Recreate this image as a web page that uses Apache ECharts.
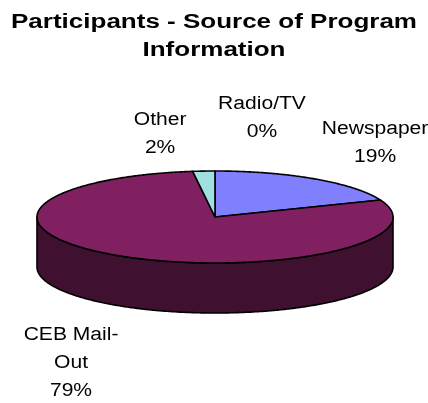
<!DOCTYPE html>
<html>
<head>
<meta charset="utf-8">
<script src="https://cdn.jsdelivr.net/npm/echarts@6/dist/echarts.min.js"></script>
<style>
html,body{margin:0;padding:0;background:#fff;}
#chart{width:428px;height:403px;}
</style>
</head>
<body>
<div id="chart"></div>
<script>
// ---- data ----
const titleLines = ['Participants - Source of Program', 'Information'];
const categories = ['Newspaper', 'CEB Mail-Out', 'Other', 'Radio/TV'];
const values = [19, 79, 2, 0];

// ---- style / layout ----
const topColors = ['#8080FF', '#802060', '#A0E0E0', '#FFFFC0'];
const sideColors = ['#404080', '#401030', '#507070', '#808060'];
const FONT = '"Liberation Sans", Arial, Helvetica, sans-serif';
const PIE = { cx: 215, cy: 217, rx: 178, ry: 46, depth: 50 };
const LABEL_K = { kx: 1.6, ky: 2.0 };
const labelNudge = [[0, 2], [1, 17], [-37, 9], [47, -7]];

const total = values.reduce((a, b) => a + b, 0);
const starts = [];
(function () { let acc = 0; values.forEach(v => { starts.push(acc); acc += v; }); })();

function ang(frac) { return frac * Math.PI * 2; }
function arcPts(a0, a1, dy) {
  const n = Math.max(2, Math.ceil((a1 - a0) / (Math.PI / 360)));
  const pts = [];
  for (let i = 0; i <= n; i++) {
    const t = a0 + (a1 - a0) * i / n;
    pts.push([PIE.cx + PIE.rx * Math.sin(t), PIE.cy - PIE.ry * Math.cos(t) + dy]);
  }
  return pts;
}
function wrapLabel(name) {
  if (name.length > 10 && name.indexOf('-') > 0) {
    const k = name.lastIndexOf('-');
    return name.slice(0, k + 1) + '\n' + name.slice(k + 1);
  }
  return name;
}

const chart = echarts.init(document.getElementById('chart'), null, { renderer: 'canvas' });

const option = {
  animation: false,
  backgroundColor: '#ffffff',
  graphic: [{
    type: 'group',
    children: titleLines.map((t, i) => ({
      type: 'text',
      x: 214, y: 22 + i * 28,
      scaleX: 1.3,
      style: {
        text: t, fill: '#000', fontFamily: FONT, fontSize: 20, fontWeight: 'bold',
        align: 'center', verticalAlign: 'middle'
      }
    }))
  }],
  series: [
    {
      type: 'custom',
      coordinateSystem: 'none',
      z: 1,
      data: values,
      renderItem: function (params, api) {
        const i = params.dataIndex;
        const v = api.value(0);
        const a0 = ang(starts[i] / total), a1 = ang((starts[i] + v) / total);
        const s = Math.max(a0, Math.PI / 2), e = Math.min(a1, Math.PI * 1.5);
        if (!(v > 0) || e <= s) return { type: 'group', children: [] };
        const pts = arcPts(s, e, 0).concat(arcPts(s, e, PIE.depth).reverse());
        return {
          type: 'polygon',
          shape: { points: pts },
          style: { fill: sideColors[i], stroke: '#000', lineWidth: 1.6, lineJoin: 'round' }
        };
      }
    },
    {
      type: 'custom',
      coordinateSystem: 'none',
      z: 2,
      data: values,
      renderItem: function (params, api) {
        const i = params.dataIndex;
        const v = api.value(0);
        const a0 = ang(starts[i] / total), a1 = ang((starts[i] + v) / total);
        const children = [];
        if (v > 0) {
          const pts = [[PIE.cx, PIE.cy]].concat(arcPts(a0, a1, 0));
          children.push({
            type: 'polygon',
            shape: { points: pts },
            style: { fill: topColors[i], stroke: '#000', lineWidth: 1.6, lineJoin: 'round' }
          });
        }
        const m = (a0 + a1) / 2;
        const c = Math.cos(m), sn = Math.sin(m);
        let lx = PIE.cx + LABEL_K.kx * PIE.rx * sn;
        let ly = PIE.cy - LABEL_K.ky * PIE.ry * c + (c < 0 ? PIE.depth : 0);
        lx += labelNudge[i][0];
        ly += labelNudge[i][1];
        children.push({
          type: 'text',
          x: lx, y: ly,
          scaleX: 1.17,
          z2: 10,
          style: {
            text: wrapLabel(categories[i]) + '\n' + Math.round(v / total * 100) + '%',
            fill: '#000', fontFamily: FONT, fontSize: 18, lineHeight: 28,
            align: 'center', verticalAlign: 'middle'
          }
        });
        return { type: 'group', children: children };
      }
    }
  ]
};
chart.setOption(option);
</script>
</body>
</html>
